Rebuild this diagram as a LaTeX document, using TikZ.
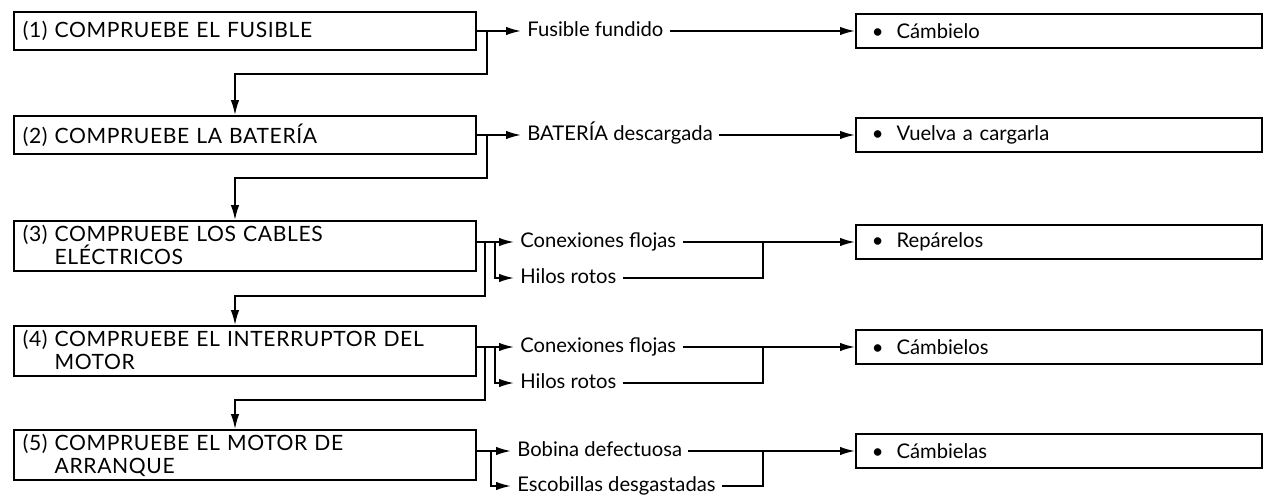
\documentclass[tikz,border=0pt]{standalone}
\usepackage{fontspec}
\setmainfont{Lato}
\newfontfamily\capsfont[LetterSpace=3]{Lato}
\usetikzlibrary{arrows.meta}
\tikzset{
  stepbox/.style={draw, line width=1pt, anchor=west, align=left, font=\capsfont\fontsize{12}{13}\selectfont,
    text width=88.8mm, inner xsep=1.8mm, inner ysep=.5mm, minimum height=7.6mm},
  tall/.style={minimum height=10mm},
  fault/.style={anchor=west, inner sep=1.2mm, font=\fontsize{11.5}{12}\selectfont, text height=1.6ex, text depth=.4ex},
  fixbox/.style={draw, line width=1pt, anchor=west, align=left, font=\fontsize{11.5}{12}\selectfont,
    text width=74.8mm, inner xsep=3.2mm, minimum height=6.8mm},
  arr/.style={-{Latex[length=3mm, width=1.7mm]}, line width=1pt},
  wire/.style={line width=1pt}}

\begin{document}
\begin{tikzpicture}[x=0.2mm, y=-0.2mm]
  \useasboundingbox (0,0) rectangle (1274,499);
  % checks, top to bottom
  \node[stepbox] (s1) at (13,31) {(1) COMPRUEBE EL FUSIBLE};
  \node[stepbox] (s2) at (13,135) {(2) COMPRUEBE LA BATERÍA};
  \node[stepbox, tall] (s3) at (13,246) {(3) COMPRUEBE LOS CABLES\\\phantom{(3) }ELÉCTRICOS};
  \node[stepbox, tall] (s4) at (13,351) {(4) COMPRUEBE EL INTERRUPTOR DEL\\\phantom{(4) }MOTOR};
  \node[stepbox, tall] (s5) at (13,455) {(5) COMPRUEBE EL MOTOR DE\\\phantom{(5) }ARRANQUE};
  % faults
  \node[fault] (f1) at (521,31) {Fusible fundido};
  \node[fault] (f2) at (521,135) {BATERÍA descargada};
  \node[fault] (f3a) at (514,242) {Conexiones flojas};
  \node[fault] (f3b) at (514,278) {Hilos rotos};
  \node[fault] (f4a) at (514,347) {Conexiones flojas};
  \node[fault] (f4b) at (514,383) {Hilos rotos};
  \node[fault] (f5a) at (511,451) {Bobina defectuosa};
  \node[fault] (f5b) at (511,486) {Escobillas desgastadas};
  % remedies
  \node[fixbox] (r1) at (855,31) {\textbullet\hspace{2.6mm}Cámbielo};
  \node[fixbox] (r2) at (855,135) {\textbullet\hspace{2.6mm}Vuelva a cargarla};
  \node[fixbox] (r3) at (855,242) {\textbullet\hspace{2.6mm}Repárelos};
  \node[fixbox] (r4) at (855,347) {\textbullet\hspace{2.6mm}Cámbielos};
  \node[fixbox] (r5) at (855,451) {\textbullet\hspace{2.6mm}Cámbielas};
  % junctions and bends
  \coordinate (j1) at (487,31);  \coordinate (h1) at (235,74);
  \coordinate (j2) at (487,135); \coordinate (h2) at (235,178);
  \coordinate (j3) at (485,242); \coordinate (k3) at (495,242); \coordinate (h3) at (235,296);
  \coordinate (j4) at (485,347); \coordinate (k4) at (495,347); \coordinate (h4) at (235,400);
  \coordinate (k5) at (491,451);
  \coordinate (m3) at (763,242); \coordinate (m4) at (763,347); \coordinate (m5) at (763,451);

  \draw[arr] (s1.east |- f1) -- (f1);
  \draw[arr] (j1) |- (h1) -- (h1 |- s2.north);
  \draw[arr] (f1) -- (r1);

  \draw[arr] (s2.east |- f2) -- (f2);
  \draw[arr] (j2) |- (h2) -- (h2 |- s3.north);
  \draw[arr] (f2) -- (r2);

  \draw[arr] (s3.east |- f3a) -- (f3a);
  \draw[arr] (k3) |- (f3b);
  \draw[arr] (j3) |- (h3) -- (h3 |- s4.north);
  \draw[arr] (f3a) -- (r3);
  \draw[wire] (f3b) -| (m3);

  \draw[arr] (s4.east |- f4a) -- (f4a);
  \draw[arr] (k4) |- (f4b);
  \draw[arr] (j4) |- (h4) -- (h4 |- s5.north);
  \draw[arr] (f4a) -- (r4);
  \draw[wire] (f4b) -| (m4);

  \draw[arr] (s5.east |- f5a) -- (f5a);
  \draw[arr] (k5) |- (f5b);
  \draw[arr] (f5a) -- (r5);
  \draw[wire] (f5b) -| (m5);
\end{tikzpicture}
\end{document}
